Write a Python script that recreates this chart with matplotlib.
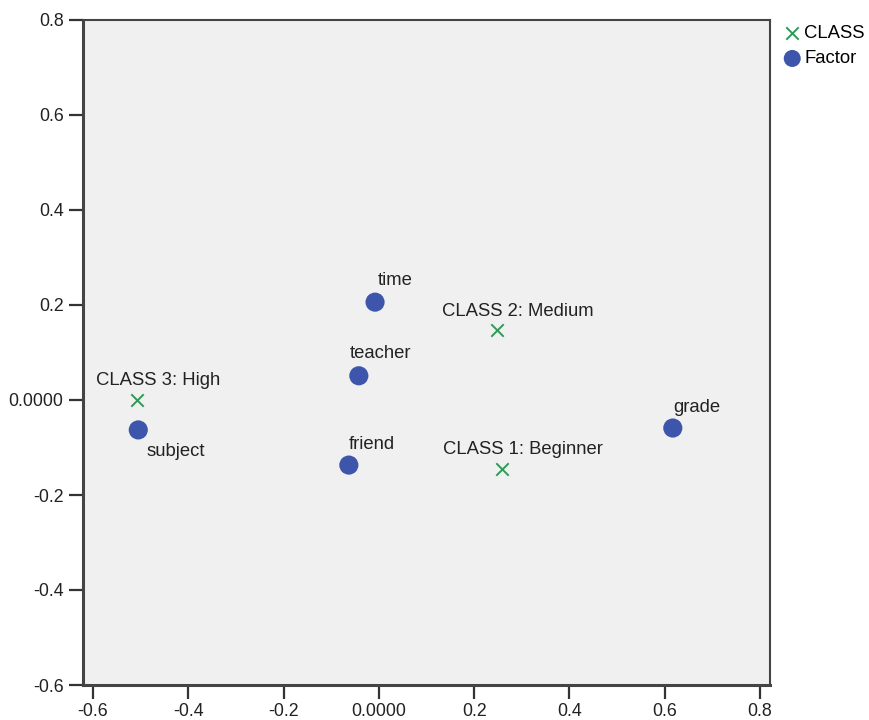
import matplotlib
matplotlib.use("Agg")
import matplotlib.pyplot as plt

plt.rcParams['font.family'] = ['Liberation Sans', 'DejaVu Sans']

factor_names = ["time", "teacher", "friend", "subject", "grade"]
factor_x = [-0.008, -0.042, -0.063, -0.505, 0.617]
factor_y = [0.206, 0.051, -0.137, -0.063, -0.059]

class_names = ["CLASS 3: High", "CLASS 2: Medium", "CLASS 1: Beginner"]
class_x = [-0.508, 0.248, 0.259]
class_y = [0.0, 0.147, -0.145]

ticks = [-0.6, -0.4, -0.2, 0.0, 0.2, 0.4, 0.6, 0.8]
tick_labels = ["-0.6", "-0.4", "-0.2", "0.0000", "0.2", "0.4", "0.6", "0.8"]

blue = "#3d56ab"
green = "#2e9a57"

fig = plt.figure(figsize=(8.69, 7.2), dpi=100)
ax = fig.add_axes([83/869, 35/720, 687/869, 665/720])
ax.set_facecolor("#f0f0f0")

ax.scatter(class_x, class_y, marker="x", s=80, color=green, linewidths=1.4, label="CLASS", zorder=3)
ax.scatter(factor_x, factor_y, marker="o", s=190, color=blue, edgecolors="none", label="Factor", zorder=3)

fs = 13.3
tfs = 12.8
offsets_f = {"time": (20, 22), "teacher": (22, 22), "friend": (23, 21), "subject": (38, -22), "grade": (24, 21)}
for n, x, y in zip(factor_names, factor_x, factor_y):
    dx, dy = offsets_f[n]
    ax.annotate(n, (x, y), xytext=(dx, dy), textcoords="offset pixels",
                ha="center", va="center", fontsize=fs, color="#222222")
for n, x, y in zip(class_names, class_x, class_y):
    ax.annotate(n, (x, y), xytext=(21, 19), textcoords="offset pixels",
                ha="center", va="center", fontsize=fs, color="#222222")

ax.set_xlim(-0.621, 0.821)
ax.set_ylim(-0.6, 0.8)
ax.set_xticks(ticks)
ax.set_xticklabels(tick_labels)
ax.set_yticks(ticks)
ax.set_yticklabels(tick_labels)
ax.tick_params(axis="both", direction="out", length=10, width=1.6, color="#333333",
               labelsize=tfs, labelcolor="#222222", pad=4)
ax.tick_params(axis="x", pad=3)
for s in ax.spines.values():
    s.set_color("#444444")
    s.set_linewidth(1.5)
ax.spines["left"].set_linewidth(2.2)
ax.spines["bottom"].set_linewidth(2.2)

leg = fig.legend(loc="upper left", bbox_to_anchor=(783/869, 1 - 25/720), frameon=False,
                 fontsize=fs, handletextpad=0.15, borderaxespad=0, labelspacing=0.45,
                 handlelength=1.0, borderpad=0)
leg.legend_handles[1].set_sizes([150])

fig.savefig("out.png", dpi=100)
